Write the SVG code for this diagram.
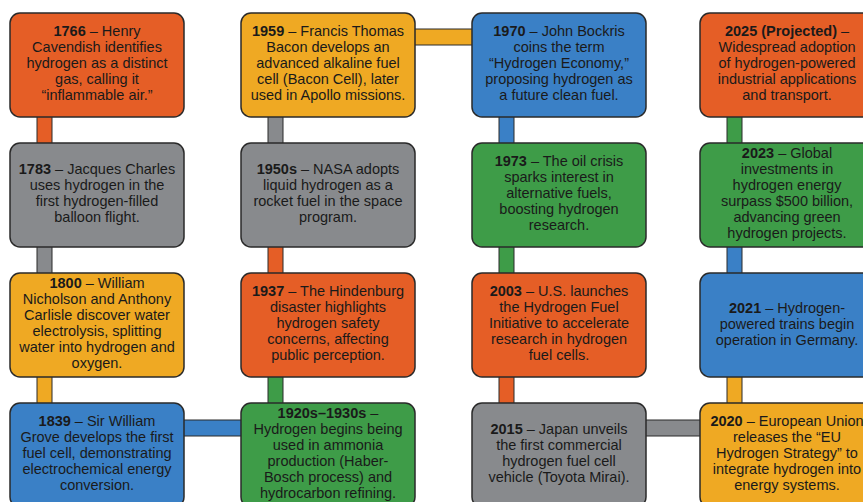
<svg xmlns="http://www.w3.org/2000/svg" width="863" height="502" viewBox="0 0 863 502">
<style>
.box{stroke:#2a2a2a;stroke-width:1.5}
.con{stroke:#2a2a2a;stroke-width:1}
.or{fill:#E55E26}.gr{fill:#888A8D}.ye{fill:#EFA923}.bl{fill:#3A80C6}.gn{fill:#3E9C48}
text{font-family:"Liberation Sans",Arial,sans-serif;font-size:14.5px;fill:#1a1a1a;text-anchor:middle}
.b{font-weight:bold}
</style>
<rect width="863" height="502" fill="#ffffff"/>
<g id="connectors">
<rect class="con or" x="37" y="115" width="15" height="30"/>
<rect class="con gr" x="37" y="245" width="15" height="30"/>
<rect class="con ye" x="37" y="375" width="15" height="30"/>
<rect class="con bl" x="183" y="420" width="59" height="16"/>
<rect class="con gn" x="268" y="375" width="15" height="30"/>
<rect class="con or" x="268" y="245" width="15" height="30"/>
<rect class="con gr" x="268" y="115" width="15" height="30"/>
<rect class="con ye" x="413" y="29" width="60" height="16"/>
<rect class="con bl" x="499" y="115" width="15" height="30"/>
<rect class="con gn" x="499" y="245" width="15" height="30"/>
<rect class="con or" x="499" y="375" width="15" height="30"/>
<rect class="con gr" x="645" y="420" width="56" height="16"/>
<rect class="con ye" x="727" y="375" width="15" height="30"/>
<rect class="con bl" x="727" y="245" width="15" height="30"/>
<rect class="con gn" x="727" y="115" width="15" height="30"/>
</g>
<g id="n1766">
<rect class="box or" x="10" y="13" width="174" height="104" rx="10"/>
<text><tspan x="97" y="36"><tspan class="b">1766</tspan> – Henry</tspan><tspan x="97" y="52">Cavendish identifies</tspan><tspan x="97" y="68">hydrogen as a distinct</tspan><tspan x="97" y="84">gas, calling it</tspan><tspan x="97" y="100">“inflammable air.”</tspan></text>
</g>
<g id="n1783">
<rect class="box gr" x="10" y="143" width="174" height="104" rx="10"/>
<text><tspan x="97" y="174"><tspan class="b">1783</tspan> – Jacques Charles</tspan><tspan x="97" y="190">uses hydrogen in the</tspan><tspan x="97" y="206">first hydrogen-filled</tspan><tspan x="97" y="222">balloon flight.</tspan></text>
</g>
<g id="n1800">
<rect class="box ye" x="10" y="273" width="174" height="104" rx="10"/>
<text><tspan x="97" y="288"><tspan class="b">1800</tspan> – William</tspan><tspan x="97" y="304">Nicholson and Anthony</tspan><tspan x="97" y="320">Carlisle discover water</tspan><tspan x="97" y="336">electrolysis, splitting</tspan><tspan x="97" y="352">water into hydrogen and</tspan><tspan x="97" y="368">oxygen.</tspan></text>
</g>
<g id="n1839">
<rect class="box bl" x="10" y="403" width="174" height="104" rx="10"/>
<text><tspan x="97" y="426"><tspan class="b">1839</tspan> – Sir William</tspan><tspan x="97" y="442">Grove develops the first</tspan><tspan x="97" y="458">fuel cell, demonstrating</tspan><tspan x="97" y="474">electrochemical energy</tspan><tspan x="97" y="490">conversion.</tspan></text>
</g>
<g id="n1959">
<rect class="box ye" x="241" y="13" width="174" height="104" rx="10"/>
<text><tspan x="328" y="36"><tspan class="b">1959</tspan> – Francis Thomas</tspan><tspan x="328" y="52">Bacon develops an</tspan><tspan x="328" y="68">advanced alkaline fuel</tspan><tspan x="328" y="84">cell (Bacon Cell), later</tspan><tspan x="328" y="100">used in Apollo missions.</tspan></text>
</g>
<g id="n1950s">
<rect class="box gr" x="241" y="143" width="174" height="104" rx="10"/>
<text><tspan x="328" y="174"><tspan class="b">1950s</tspan> – NASA adopts</tspan><tspan x="328" y="190">liquid hydrogen as a</tspan><tspan x="328" y="206">rocket fuel in the space</tspan><tspan x="328" y="222">program.</tspan></text>
</g>
<g id="n1937">
<rect class="box or" x="241" y="273" width="174" height="104" rx="10"/>
<text><tspan x="328" y="296"><tspan class="b">1937</tspan> – The Hindenburg</tspan><tspan x="328" y="312">disaster highlights</tspan><tspan x="328" y="328">hydrogen safety</tspan><tspan x="328" y="344">concerns, affecting</tspan><tspan x="328" y="360">public perception.</tspan></text>
</g>
<g id="n1920s">
<rect class="box gn" x="241" y="403" width="174" height="104" rx="10"/>
<text><tspan x="328" y="418"><tspan class="b">1920s–1930s</tspan> –</tspan><tspan x="328" y="434">Hydrogen begins being</tspan><tspan x="328" y="450">used in ammonia</tspan><tspan x="328" y="466">production (Haber-</tspan><tspan x="328" y="482">Bosch process) and</tspan><tspan x="328" y="498">hydrocarbon refining.</tspan></text>
</g>
<g id="n1970">
<rect class="box bl" x="472" y="13" width="174" height="104" rx="10"/>
<text><tspan x="559" y="36"><tspan class="b">1970</tspan> – John Bockris</tspan><tspan x="559" y="52">coins the term</tspan><tspan x="559" y="68">“Hydrogen Economy,”</tspan><tspan x="559" y="84">proposing hydrogen as</tspan><tspan x="559" y="100">a future clean fuel.</tspan></text>
</g>
<g id="n1973">
<rect class="box gn" x="472" y="143" width="174" height="104" rx="10"/>
<text><tspan x="559" y="166"><tspan class="b">1973</tspan> – The oil crisis</tspan><tspan x="559" y="182">sparks interest in</tspan><tspan x="559" y="198">alternative fuels,</tspan><tspan x="559" y="214">boosting hydrogen</tspan><tspan x="559" y="230">research.</tspan></text>
</g>
<g id="n2003">
<rect class="box or" x="472" y="273" width="174" height="104" rx="10"/>
<text><tspan x="559" y="296"><tspan class="b">2003</tspan> – U.S. launches</tspan><tspan x="559" y="312">the Hydrogen Fuel</tspan><tspan x="559" y="328">Initiative to accelerate</tspan><tspan x="559" y="344">research in hydrogen</tspan><tspan x="559" y="360">fuel cells.</tspan></text>
</g>
<g id="n2015">
<rect class="box gr" x="472" y="403" width="174" height="104" rx="10"/>
<text><tspan x="559" y="434"><tspan class="b">2015</tspan> – Japan unveils</tspan><tspan x="559" y="450">the first commercial</tspan><tspan x="559" y="466">hydrogen fuel cell</tspan><tspan x="559" y="482">vehicle (Toyota Mirai).</tspan></text>
</g>
<g id="n2025">
<rect class="box or" x="700" y="13" width="174" height="104" rx="10"/>
<text><tspan x="787" y="36"><tspan class="b">2025 (Projected)</tspan> –</tspan><tspan x="787" y="52">Widespread adoption</tspan><tspan x="787" y="68">of hydrogen-powered</tspan><tspan x="787" y="84">industrial applications</tspan><tspan x="787" y="100">and transport.</tspan></text>
</g>
<g id="n2023">
<rect class="box gn" x="700" y="143" width="174" height="104" rx="10"/>
<text><tspan x="787" y="158"><tspan class="b">2023</tspan> – Global</tspan><tspan x="787" y="174">investments in</tspan><tspan x="787" y="190">hydrogen energy</tspan><tspan x="787" y="206">surpass $500 billion,</tspan><tspan x="787" y="222">advancing green</tspan><tspan x="787" y="238">hydrogen projects.</tspan></text>
</g>
<g id="n2021">
<rect class="box bl" x="700" y="273" width="174" height="104" rx="10"/>
<text><tspan x="787" y="313"><tspan class="b">2021</tspan> – Hydrogen-</tspan><tspan x="787" y="329">powered trains begin</tspan><tspan x="787" y="345">operation in Germany.</tspan></text>
</g>
<g id="n2020">
<rect class="box ye" x="700" y="403" width="174" height="104" rx="10"/>
<text><tspan x="787" y="426"><tspan class="b">2020</tspan> – European Union</tspan><tspan x="787" y="442">releases the “EU</tspan><tspan x="787" y="458">Hydrogen Strategy” to</tspan><tspan x="787" y="474">integrate hydrogen into</tspan><tspan x="787" y="490">energy systems.</tspan></text>
</g>
</svg>
